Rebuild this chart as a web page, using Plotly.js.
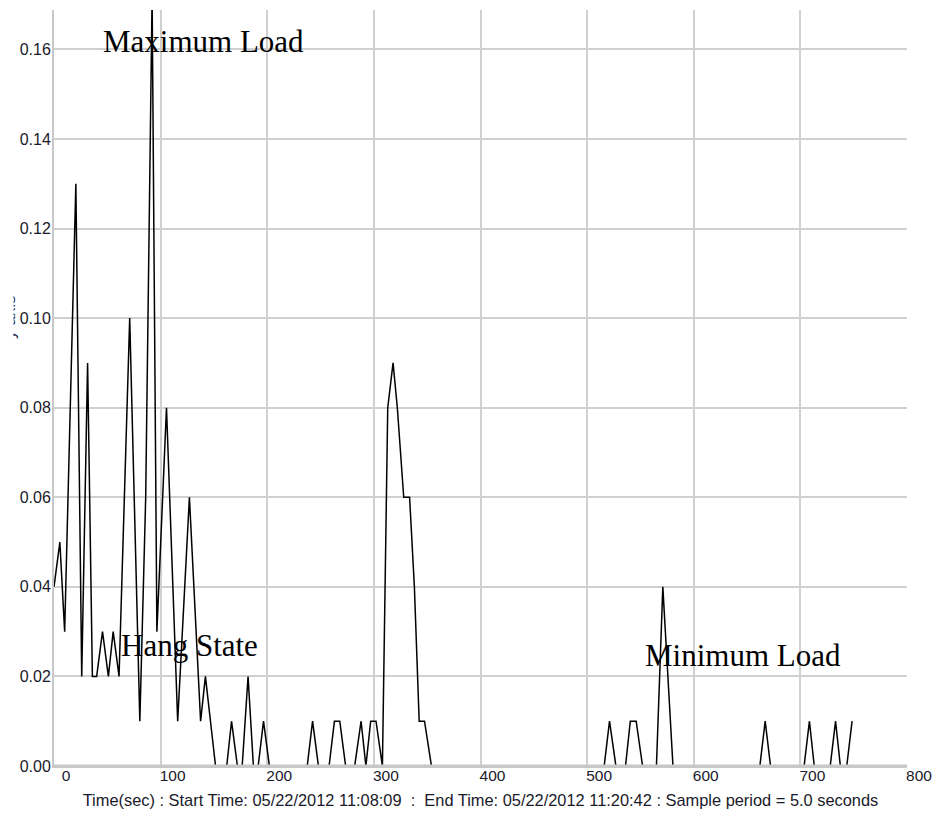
<!DOCTYPE html>
<html>
<head>
<meta charset="utf-8">
<script src="https://cdn.plot.ly/plotly-3.0.1.min.js"></script>
<style>
html,body{margin:0;padding:0;background:#ffffff;}
#chart{width:939px;height:819px;}
</style>
</head>
<body>
<div id="chart"></div>
<script>
// ---- data ----
const timeSec = [0, 5.5, 10, 20.5, 26, 31.5, 36, 40, 45.5, 51, 55.5, 61, 71, 80.5, 86, 92, 96.5,
  105.5, 116, 127, 137.5, 142, 151.5, 162, 166.5, 172, 176.5, 182, 187, 191.5, 196.5, 202,
  237.5, 242.5, 248, 258, 263, 268, 273.5, 282, 288, 292.5, 297, 302, 308, 313, 318, 322,
  328, 333.5, 338, 342.5, 347.5, 354, 516, 521, 527, 536, 540.5, 546, 552, 565, 571, 580.5,
  662, 667, 672, 703.5, 708.5, 713, 728, 733, 737.5, 743.5, 748.5];
const loadValue = [0.04, 0.05, 0.03, 0.13, 0.02, 0.09, 0.02, 0.02, 0.03, 0.02, 0.03, 0.02, 0.10, 0.01, 0.06, 0.172, 0.03,
  0.08, 0.01, 0.06, 0.01, 0.02, 0, 0, 0.01, 0, 0, 0.02, 0, 0, 0.01, 0,
  0, 0.01, 0, 0, 0.01, 0.01, 0, 0, 0.01, 0, 0.01, 0.01, 0, 0.08, 0.09, 0.08,
  0.06, 0.06, 0.04, 0.01, 0.01, 0, 0, 0.01, 0, 0, 0.01, 0.01, 0, 0, 0.04, 0,
  0, 0.01, 0, 0, 0.01, 0, 0, 0.01, 0, 0, 0.01];

const xTickVals = [0, 100, 200, 300, 400, 500, 600, 700, 800];
const xTickText = ['0', '100', '200', '300', '400', '500', '600', '700', '800'];
const yTickVals = [0, 0.02, 0.04, 0.06, 0.08, 0.10, 0.12, 0.14, 0.16];
const yTickText = ['0.00', '0.02', '0.04', '0.06', '0.08', '0.10', '0.12', '0.14', '0.16'];

const xTitleText = 'Time(sec) : Start Time: 05/22/2012 11:08:09 &nbsp;: &nbsp;End Time: 05/22/2012 11:20:42 : Sample period = 5.0 seconds';
const yTitleText = 'y axis';
const noteLabels = ['Maximum Load', 'Hang State', 'Minimum Load'];

// ---- layout helpers (pixel -> paper) ----
const W = 939, H = 819;
const M = {l: 54, r: 32, t: 10, b: 53};
const PW = W - M.l - M.r, PH = H - M.t - M.b;
const px = v => (v - M.l) / PW;
const py = v => (H - M.b - v) / PH;

const sans = "'Liberation Sans', Arial, sans-serif";
const serif = "'Liberation Serif', 'Times New Roman', serif";

const trace = {
  x: timeSec,
  y: loadValue,
  type: 'scatter',
  mode: 'lines',
  line: {color: '#000000', width: 1.5},
  hoverinfo: 'x+y',
  showlegend: false
};

// white boxes behind the note texts (between grid and trace)
const shapes = [
  [77, 330, 10, 71],
  [99, 278, 613, 676],
  [622, 863, 622, 676]
].map(b => ({
  type: 'rect', layer: 'between', xref: 'paper', yref: 'paper',
  x0: px(b[0]), x1: px(b[1]), y0: py(b[3]), y1: py(b[2]),
  fillcolor: '#ffffff', line: {width: 0}
}));
// gray bottom frame line drawn over the zero-level parts of the trace
shapes.push({
  type: 'line', layer: 'above', xref: 'paper', yref: 'paper',
  x0: 0, x1: 1, y0: 0, y1: 0,
  line: {color: '#c8c8c8', width: 3}
});

const notePos = [[203, 41], [189, 645], [743, 655]];
const notes = noteLabels.map((t, i) => ({
  text: t, xref: 'paper', yref: 'paper',
  x: px(notePos[i][0]), y: py(notePos[i][1]),
  xanchor: 'center', yanchor: 'middle', showarrow: false,
  font: {family: serif, size: 31, color: '#000000'}
}));

// clipped y-axis title fragment
notes.push({
  text: yTitleText, xref: 'paper', yref: 'paper',
  x: px(9), y: py(318), xanchor: 'center', yanchor: 'middle',
  textangle: -90, showarrow: false,
  font: {family: sans, size: 17, color: '#1a1a3a'}
});
notes.push({
  text: ' ', xref: 'paper', yref: 'paper',
  x: px(0), y: py(318), xanchor: 'left', yanchor: 'middle',
  width: 12, height: 80, bgcolor: '#ffffff', showarrow: false, borderpad: 0,
  font: {size: 10}
});

const layout = {
  width: W, height: H,
  margin: M,
  paper_bgcolor: '#ffffff',
  plot_bgcolor: '#ffffff',
  showlegend: false,
  xaxis: {
    range: [0, 800],
    tickmode: 'array', tickvals: xTickVals, ticktext: xTickText,
    ticks: '', ticklen: 0, showgrid: true, gridcolor: '#d0d0d0', gridwidth: 2,
    zeroline: false, showline: true, linecolor: '#c8c8c8', linewidth: 2,
    ticklabelshift: 12, ticklabelstandoff: -6,
    tickfont: {family: sans, size: 15.5, color: '#1a1a2a'},
    title: {text: xTitleText, font: {family: sans, size: 16.4, color: '#1a1a2a'}, standoff: 12},
    automargin: false, fixedrange: true
  },
  yaxis: {
    range: [0, 0.1688],
    tickmode: 'array', tickvals: yTickVals, ticktext: yTickText,
    ticks: '', ticklen: 0, showgrid: true, gridcolor: '#d0d0d0', gridwidth: 2,
    zeroline: false, showline: true, linecolor: '#c8c8c8', linewidth: 2,
    ticklabelstandoff: -2,
    tickfont: {family: sans, size: 16, color: '#1a1a2a'},
    automargin: false, fixedrange: true
  },
  shapes: shapes,
  annotations: notes
};

Plotly.newPlot('chart', [trace], layout, {displayModeBar: false, staticPlot: true});
</script>
</body>
</html>
